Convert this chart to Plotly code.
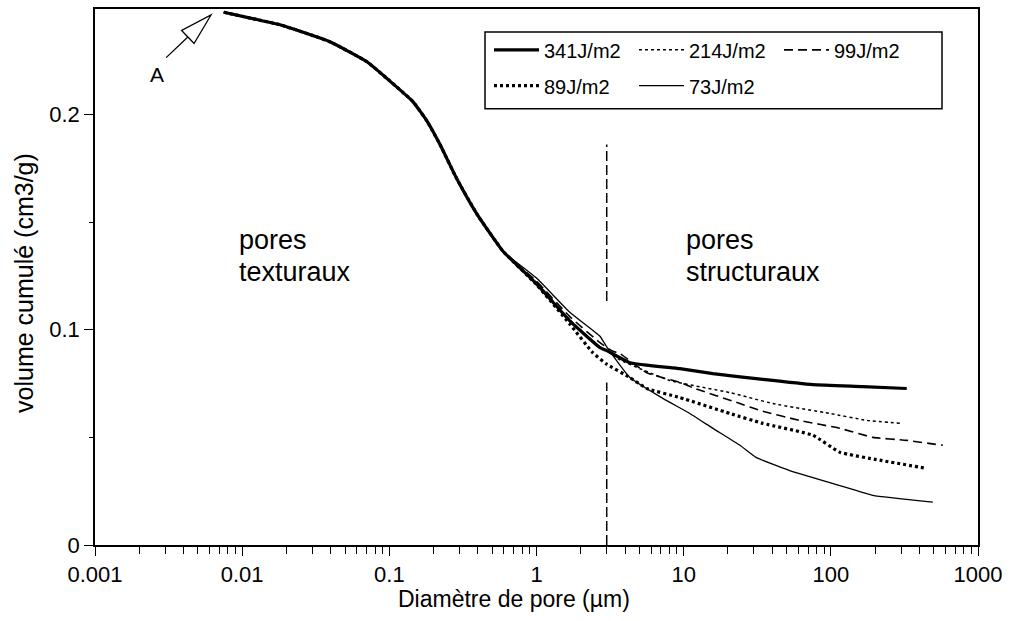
import plotly.graph_objects as go
import numpy as np

# shared part of the curves (textural pores, curves superimposed)
common_x = [0.0075, 0.012, 0.0181, 0.0394, 0.0705, 0.0964, 0.1445, 0.18, 0.221, 0.288, 0.394, 0.59]
common_y = [0.2475, 0.2444, 0.2417, 0.2338, 0.2245, 0.2167, 0.2060, 0.1970, 0.1860, 0.1700, 0.1537, 0.1366]

# tails per energy level
s341_x = [1.0, 1.69, 2.7, 3.0, 4.31, 9.42, 15.8, 34.5, 75.5, 165, 328]
s341_y = [0.1213, 0.1040, 0.0917, 0.0903, 0.0847, 0.0819, 0.0796, 0.0769, 0.0745, 0.0736, 0.0727]

s214_x = [1.0, 1.69, 2.7, 3.0, 3.69, 8.06, 20.6, 40.4, 98.4, 176, 303]
s214_y = [0.1220, 0.1045, 0.0920, 0.0903, 0.0860, 0.0764, 0.0708, 0.0657, 0.0611, 0.0579, 0.0565]

s99_x = [1.0, 1.69, 2.7, 3.3, 3.69, 5.62, 9.42, 11.5, 24.1, 33.0, 61, 115, 193, 328, 577]
s99_y = [0.1225, 0.1060, 0.0940, 0.0900, 0.0889, 0.0800, 0.0755, 0.0731, 0.0657, 0.0625, 0.0579, 0.0542, 0.0500, 0.0486, 0.0463]

s89_x = [1.0, 1.69, 2.4, 3.0, 4.31, 5.62, 9.42, 20.6, 34.5, 75.5, 115, 215, 449]
s89_y = [0.1210, 0.1025, 0.0895, 0.0840, 0.0778, 0.0727, 0.0685, 0.0611, 0.0565, 0.0510, 0.0431, 0.0394, 0.0356]

s73_x = [1.0, 1.69, 2.7, 3.0, 4.31, 7.22, 11.0, 15.8, 24.1, 31, 52, 128, 193, 493]
s73_y = [0.1240, 0.1080, 0.0970, 0.0920, 0.0778, 0.0681, 0.0611, 0.0542, 0.0463, 0.0407, 0.0347, 0.0267, 0.0231, 0.0199]

series_names = ["341J/m2", "214J/m2", "99J/m2", "89J/m2", "73J/m2"]
legend_rows = ["legend", "legend", "legend", "legend2", "legend2"]
boundary_um = 3.0
boundary_top = 0.186
boundary_gap = [0.1134, 0.0755]

x_tickvals = [0.001, 0.01, 0.1, 1, 10, 100, 1000]
x_ticktext = ["0.001", "0.01", "0.1", "1", "10", "100", "1000"]
y_tickvals = [0, 0.1, 0.2]
y_ticktext = ["0", "0.1", "0.2"]
y_minor = [0.05, 0.15]

styles = [
    dict(color="black", width=3.2),
    dict(color="black", width=1.5, dash="3px,3px"),
    dict(color="black", width=1.6, dash="9px,5px"),
    dict(color="black", width=3.2, dash="3px,3px"),
    dict(color="black", width=1.3),
]
tails = [(s341_x, s341_y), (s214_x, s214_y), (s99_x, s99_y), (s89_x, s89_y), (s73_x, s73_y)]

FONT = "Liberation Sans, Arial, sans-serif"

fig = go.Figure()
for name, (tx, ty), st, lg in zip(series_names, tails, styles, legend_rows):
    fig.add_trace(go.Scatter(
        x=common_x + tx, y=common_y + ty, mode="lines", name=name, legend=lg,
        line=st, line_shape="spline", line_smoothing=0.4))

# vertical boundary between textural and structural pores
for y0, y1 in [(0, boundary_gap[1]), (boundary_gap[0], boundary_top)]:
    fig.add_shape(type="line", xref="x", yref="y", x0=boundary_um, x1=boundary_um, y0=y0, y1=y1,
                  line=dict(color="black", width=1.5, dash="10px,4px"))

W, H = 1022, 621
L, R, T, B = 95, 44, 7, 76
pw, ph = W - L - R, H - T - B

def px(x):
    return (x - L) / pw

def py(y):
    return (H - B - y) / ph

# hollow arrow "A"
tip = np.array([211.0, 13.0])
d = np.array([44.0, -42.0]); d /= np.linalg.norm(d)
perp = np.array([-d[1], d[0]])
base = tip - 32 * d
c1 = base + 9 * perp
c2 = base - 9 * perp
n1 = base + 2.5 * perp
n2 = base - 2.5 * perp
tail = tip - 62 * d
fig.add_shape(type="path", xref="paper", yref="paper",
              path="M {a},{b} L {c},{d} L {e},{f} L {g},{h} L {i},{j} Z".format(
                  a=px(n1[0]), b=py(n1[1]), c=px(c1[0]), d=py(c1[1]),
                  e=px(tip[0]), f=py(tip[1]), g=px(c2[0]), h=py(c2[1]),
                  i=px(n2[0]), j=py(n2[1])),
              line=dict(color="black", width=1.3), fillcolor="white")
fig.add_shape(type="line", xref="paper", yref="paper",
              x0=px(base[0]), y0=py(base[1]), x1=px(tail[0]), y1=py(tail[1]),
              line=dict(color="black", width=1.3))

# legend frame (single box around the two legend rows)
fig.add_shape(type="rect", xref="paper", yref="paper",
              x0=px(485), x1=px(942), y0=py(30), y1=py(107),
              line=dict(color="black", width=1.5))

annots = [
    dict(text="A", x=px(157), y=py(73), size=21),
    dict(text="pores", x=px(237), y=py(239), size=27, left=True),
    dict(text="texturaux", x=px(237), y=py(271), size=27, left=True),
    dict(text="pores", x=px(684), y=py(239), size=27, left=True),
    dict(text="structuraux", x=px(684), y=py(271), size=27, left=True),
    dict(text="Diamètre de pore (µm)", x=px(514), y=py(599), size=23),
]
for a in annots:
    fig.add_annotation(text=a["text"], x=a["x"], y=a["y"], xref="paper", yref="paper",
                       showarrow=False, xanchor="left" if a.get("left") else "center",
                       yanchor="middle", font=dict(family=FONT, size=a["size"], color="black"))
fig.add_annotation(text="volume cumulé (cm3/g)", x=px(24), y=py(282), xref="paper", yref="paper",
                   showarrow=False, textangle=-90, xanchor="center", yanchor="middle",
                   font=dict(family=FONT, size=25, color="black"))

leg_common = dict(orientation="h", xanchor="left", yanchor="middle",
                  borderwidth=0, bgcolor="rgba(0,0,0,0)",
                  font=dict(family=FONT, size=20, color="black"),
                  entrywidth=85, itemwidth=45)

fig.update_layout(
    width=W, height=H,
    margin=dict(l=L, r=R, t=T, b=B),
    paper_bgcolor="white", plot_bgcolor="white",
    font=dict(family=FONT, color="black"),
    showlegend=True,
    legend=dict(x=px(489), y=py(48), **leg_common),
    legend2=dict(x=px(489), y=py(84), **leg_common),
    xaxis=dict(type="log", range=[-3, 3], tickvals=x_tickvals, ticktext=x_ticktext,
               ticks="outside", ticklen=9, tickwidth=1.3, tickcolor="black",
               showline=True, linecolor="black", linewidth=1.5, mirror=True,
               showgrid=False, zeroline=False,
               tickfont=dict(family=FONT, size=22, color="black"),
               minor=dict(ticks="outside", ticklen=7, tickwidth=1, tickcolor="black",
                          dtick="D1", showgrid=False)),
    yaxis=dict(range=[0, 0.249], tickvals=y_tickvals, ticktext=y_ticktext,
               ticks="outside", ticklen=9, tickwidth=1.3, tickcolor="black",
               showline=True, linecolor="black", linewidth=1.5, mirror=True,
               showgrid=False, zeroline=False,
               tickfont=dict(family=FONT, size=22, color="black"),
               minor=dict(ticks="outside", ticklen=4, tickwidth=1, tickcolor="black",
                          tickvals=y_minor, showgrid=False)),
)

fig.write_html("out.html")
